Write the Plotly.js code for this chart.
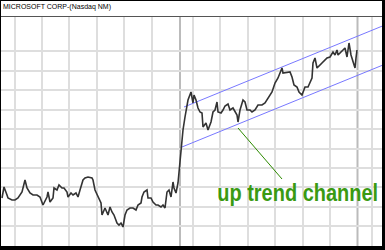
<!DOCTYPE html>
<html><head><meta charset="utf-8">
<script src="https://cdn.plot.ly/plotly-3.0.1.min.js"></script>
<style>html,body{margin:0;padding:0;background:#fff}#c{width:385px;height:250px}</style>
</head><body><div id="c"></div>
<script>
// trading day index and price (arbitrary units)
const days = [2,4,7,8,12,15,18,22,25,27,30,33,37,40,43,45,47,48,50,53,54,57,59,62,64,67,68,71,73,76,78,80,83,85,88,92,93,95,98,101,102,105,108,110,112,114,117,119,121,123,125,127,130,133,136,138,141,142,144,147,148,151,153,156,158,161,163,165,167,169,171,173,174,176,178,180,182,183,185,187,188,191,193,194,196,198,200,202,203,206,208,211,213,215,217,218,221,223,225,228,230,233,237,238,240,243,245,247,250,252,255,258,262,265,268,272,275,278,280,282,283,287,290,292,294,297,299,302,305,308,312,313,315,317,320,323,327,330,333,335,337,338,341,343,345,347,348,349,351,353,355,356,357];
const prices = [26,31.5,27.5,26,25,25,26,29,35,31,28.5,27.5,27.5,26.5,22.5,25,26.5,29,24,26,31,30,32.5,31,31,29,26.5,28.5,27.5,28.5,26.5,30,35,36,36.5,36,35,30,26.5,23.5,17.5,21,17.5,21.5,19,17.5,13.5,12.5,13.5,11.5,17.5,20,21,21,20,22.5,23.5,26.5,29,30,26,26,24,22.5,22.5,21.5,22.5,21,29,30,26.5,34,31,28.5,33.5,44,51.5,60,66.5,71.5,75,79,73.5,77.5,75,71,69,68.5,61.5,63.5,60,64,69,70,74,69,68.5,70,72,73,70,71,67.5,64,70,75,74,70,70,69,70,72.5,72.5,73.5,76,79,83.5,86,88.5,91,88.5,89,89,86.5,82.5,81.5,79,77.5,81.5,81.5,86,93.5,96,91,92.5,94,96,96.5,99,97.5,100,97.5,99,100,101,96.5,101.5,103.5,97.5,94,91,96,100];

// trend channel
const upperX = [184, 382];
const upperY = [71.5, 111.9];
const lowerX = [181, 382];
const lowerY = [51.3, 92.3];

const title = "MICROSOFT CORP-(Nasdaq NM)";
const label = "up trend channel";
const xGrid = [15,42.3,69.3,97.3,124.3,152.3,193,220,247.5,275,302.5,330,372];
const xMajor = [180,357.5];
const yGrid = [99.5,89.75,80,70.25,60.5,50.75,41,31.5,21.75,12];
const arrowFrom = [238, 61];
const arrowTo = [282, 35.5];

const W=385,H=250,L=1,R=3,T=17,B=4;
const pw = W-L-R, ph = H-T-B;
const px = v => (v-L)/pw;
const py = v => (H-B-v)/ph;

const traces = [
  {x: upperX, y: upperY, mode:'lines', line:{color:'#7878ff', width:1}, hoverinfo:'skip'},
  {x: lowerX, y: lowerY, mode:'lines', line:{color:'#7878ff', width:1}, hoverinfo:'skip'},
  {x: days, y: prices, mode:'lines', line:{color:'#333', width:1.6}, hoverinfo:'skip'}
];

const shapes = [];
xMajor.forEach(v => shapes.push({type:'line', xref:'x', yref:'paper', x0:v, x1:v, y0:0, y1:1, line:{color:'#bbbbbb', width:2}, layer:'below'}));
shapes.push({type:'line', xref:'x', yref:'y', x0:arrowFrom[0], y0:arrowFrom[1], x1:arrowTo[0], y1:arrowTo[1], line:{color:'#2d8a00', width:1}});
// frame
shapes.push({type:'line', xref:'paper', yref:'paper', x0:px(0), x1:px(W), y0:py(16.5), y1:py(16.5), line:{color:'#555', width:1}});
shapes.push({type:'rect', xref:'paper', yref:'paper', x0:px(0), x1:px(W), y0:py(0), y1:py(1), fillcolor:'#000', line:{width:0}});
shapes.push({type:'rect', xref:'paper', yref:'paper', x0:px(0), x1:px(1), y0:py(0), y1:py(H), fillcolor:'#000', line:{width:0}});
shapes.push({type:'rect', xref:'paper', yref:'paper', x0:px(382), x1:px(W), y0:py(0), y1:py(H), fillcolor:'#000', line:{width:0}});
shapes.push({type:'rect', xref:'paper', yref:'paper', x0:px(0), x1:px(W), y0:py(246), y1:py(H), fillcolor:'#000', line:{width:0}});

const layout = {
  width:W, height:H, margin:{l:L,r:R,t:T,b:B},
  paper_bgcolor:'#fff', plot_bgcolor:'#fff', showlegend:false,
  title:{text:title, x:3/W, xanchor:'left', xref:'container', y:1-7/H, yanchor:'middle', yref:'container',
         font:{family:'Liberation Sans, Arial, sans-serif', size:7, color:'#000'}},
  xaxis:{range:[L, W-R], tickvals:xGrid, showticklabels:false, ticks:'', gridcolor:'#dedede', gridwidth:2, zeroline:false, showline:false, fixedrange:true},
  yaxis:{range:[(H-(H-B))/2, (H-T)/2], tickvals:yGrid, showticklabels:false, ticks:'', gridcolor:'#dedede', gridwidth:2, zeroline:false, showline:false, fixedrange:true},
  shapes: shapes,
  annotations:[{text:label, x:297.5, y:29, xref:'x', yref:'y', xanchor:'center', yanchor:'middle', showarrow:false,
    font:{family:'Liberation Sans, Arial, sans-serif', size:24, color:'#3a9a12', weight:'bold'}}]
};
Plotly.newPlot('c', traces, layout, {staticPlot:true, displayModeBar:false}).then(gd => {
  const target = 161;
  gd.querySelectorAll('.annotation').forEach(g => {
    const t = g.querySelector('.annotation-text');
    if (!t) return;
    const w = t.getComputedTextLength();
    const s = target / w;
    const cx = parseFloat(t.getAttribute('x')) || 0;
    const prev = t.getAttribute('transform') || '';
    t.setAttribute('transform', prev + ` translate(${cx},0) scale(${s},1) translate(${-cx},0)`);
    g.querySelectorAll('rect').forEach(r => {
      const rw = parseFloat(r.getAttribute('width'));
      const rx = parseFloat(r.getAttribute('x')) || 0;
      if (!isNaN(rw)) {
        const nw = rw - (w - target);
        r.setAttribute('x', rx + (rw - nw) / 2);
        r.setAttribute('width', nw);
      }
    });
  });
});
</script></body></html>
